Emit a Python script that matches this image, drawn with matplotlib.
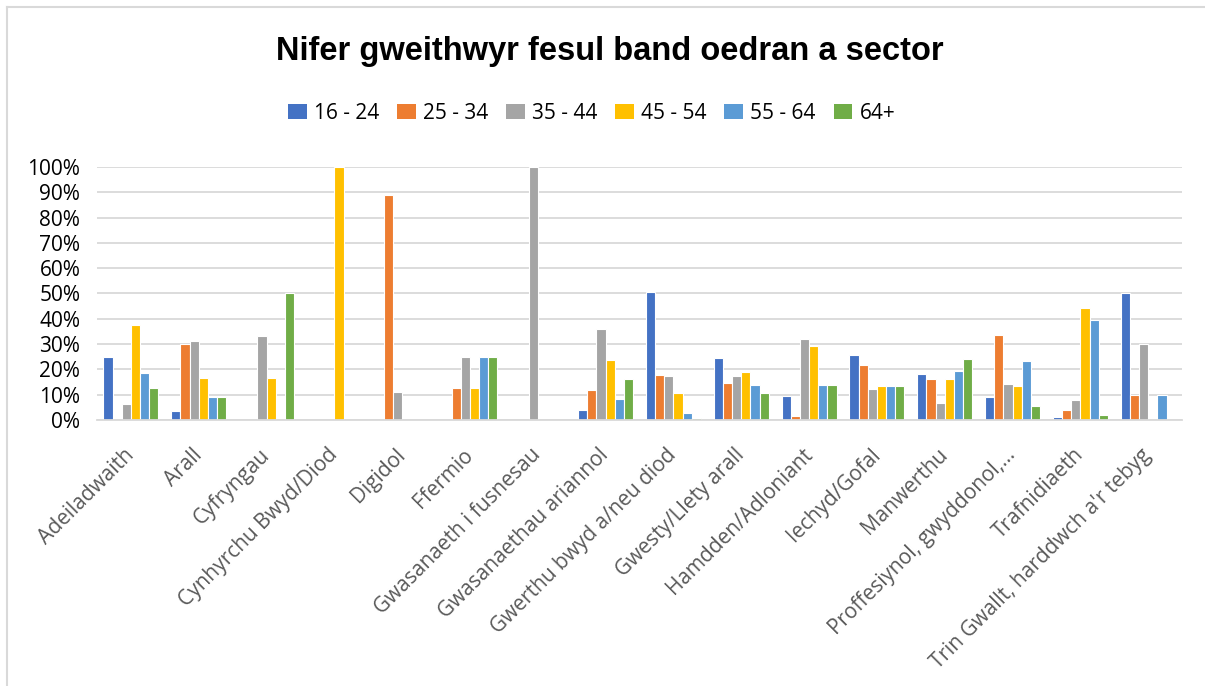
import numpy as np
import matplotlib
matplotlib.use("Agg")
import matplotlib.pyplot as plt
from matplotlib.lines import Line2D
from matplotlib.patches import Patch
from matplotlib.ticker import PercentFormatter

sectors = ["Adeiladwaith", "Arall", "Cyfryngau", "Cynhyrchu Bwyd/Diod", "Digidol",
           "Ffermio", "Gwasanaeth i fusnesau", "Gwasanaethau ariannol",
           "Gwerthu bwyd a/neu diod", "Gwesty/Llety arall", "Hamdden/Adloniant",
           "Iechyd/Gofal", "Manwerthu", "Proffesiynol, gwyddonol,…", "Trafnidiaeth",
           "Trin Gwallt, harddwch a'r tebyg"]
age_bands = ["16 - 24", "25 - 34", "35 - 44", "45 - 54", "55 - 64", "64+"]

# percentages
band_16_24 = [25.0, 3.4, 0, 0, 0, 0, 0, 3.8, 50.7, 24.3, 9.3, 25.5, 18.0, 8.9, 1.3, 50.0]
band_25_34 = [0, 30.0, 0, 0, 88.9, 12.5, 0, 11.9, 17.6, 14.8, 1.4, 21.8, 16.0, 33.6, 3.8, 10.0]
band_35_44 = [6.25, 31.4, 33.3, 0, 11.1, 25.0, 100.0, 36.1, 17.2, 17.2, 32.2, 12.1, 6.6, 14.4, 7.9, 30.0]
band_45_54 = [37.5, 16.5, 16.7, 100.0, 0, 12.5, 0, 23.9, 10.8, 19.0, 29.1, 13.3, 16.0, 13.4, 44.4, 0]
band_55_64 = [18.75, 9.2, 0, 0, 0, 25.0, 0, 8.1, 2.6, 14.0, 14.0, 13.3, 19.2, 23.5, 39.6, 10.0]
band_64_up = [12.5, 9.2, 50.0, 0, 0, 25.0, 0, 16.0, 0.7, 10.6, 13.8, 13.3, 24.1, 5.4, 2.1, 0]

series = [band_16_24, band_25_34, band_35_44, band_45_54, band_55_64, band_64_up]
colours = ["#4472C4", "#ED7D31", "#A5A5A5", "#FFC000", "#5B9BD5", "#70AD47"]

fig = plt.figure(figsize=(12.05, 6.86), dpi=100)
ax = fig.add_axes([0.0805, 0.3878, 0.9005, 0.3688])

x = np.arange(len(sectors))
slot = 0.135
for i, (vals, col) in enumerate(zip(series, colours)):
    offs = (i - 2.5) * slot
    ax.bar(x + offs, np.array(vals) / 100, width=slot, color=col,
           edgecolor="white", linewidth=0.8, zorder=2)

ax.set_xlim(-0.5, len(sectors) - 0.5)
ax.set_ylim(0, 1)
ax.set_yticks(np.arange(0, 1.01, 0.1))
ax.yaxis.set_major_formatter(PercentFormatter(1.0, decimals=0))
ax.grid(axis="y", color="#D9D9D9", linewidth=1.3, zorder=0)
ax.set_axisbelow(True)
for s in ["top", "right", "left"]:
    ax.spines[s].set_visible(False)
ax.spines["bottom"].set_color("#D9D9D9")
ax.spines["bottom"].set_linewidth(1.3)
ax.tick_params(length=0)
ax.tick_params(axis="y", labelsize=15, pad=12)
for t in ax.get_yticklabels():
    t.set_family("Open Sans")

ax.set_xticks(x)
ax.set_xticklabels(sectors, rotation=45, ha="right", va="center",
                   rotation_mode="anchor", fontsize=15, color="#595959",
                   family="Open Sans")
ax.tick_params(axis="x", pad=23)

fig.text(0.506, 0.925, "Nifer gweithwyr fesul band oedran a sector", ha="center",
         va="center", fontsize=23.5, fontweight="bold", family="Liberation Sans")

handles = [Patch(facecolor=c, edgecolor="none") for c in colours]
leg = fig.legend(handles, age_bands, loc="center", bbox_to_anchor=(0.491, 0.835),
                 ncol=6, frameon=False, handlelength=0.9, handleheight=0.68,
                 handletextpad=0.35, columnspacing=0.85,
                 prop={"family": "Open Sans", "size": 15})

# chart border (top and left edges visible)
fig.add_artist(Line2D([7 / 1205, 1], [1 - 7 / 686, 1 - 7 / 686], color="#D9D9D9",
                      linewidth=1.5, transform=fig.transFigure))
fig.add_artist(Line2D([7 / 1205, 7 / 1205], [0, 1 - 7 / 686], color="#D9D9D9",
                      linewidth=1.5, transform=fig.transFigure))

plt.savefig("out.png", dpi=100)
